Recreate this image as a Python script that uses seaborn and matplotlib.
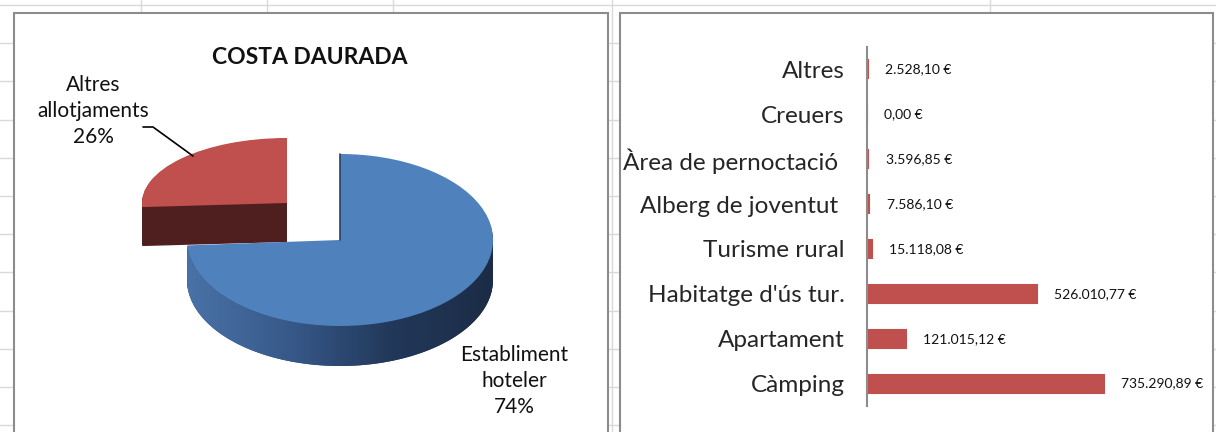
import numpy as np
import pandas as pd
import seaborn as sns
import matplotlib.pyplot as plt
from matplotlib.lines import Line2D
from matplotlib.patches import Rectangle, Polygon
from matplotlib.colors import LinearSegmentedColormap

# pie data (Costa Daurada)
pie_labels = ['Establiment\nhoteler', 'Altres\nallotjaments']
pie_share = [74, 26]

# bar data
categories = ['Altres', 'Creuers', 'Àrea de pernoctació ', 'Alberg de joventut ',
              'Turisme rural', "Habitatge d'ús tur.", 'Apartament', 'Càmping']
amounts = [2528.10, 0.00, 3596.85, 7586.10, 15118.08, 526010.77, 121015.12, 735290.89]
amount_labels = ['2.528,10 €', '0,00 €', '3.596,85 €', '7.586,10 €',
                 '15.118,08 €', '526.010,77 €', '121.015,12 €', '735.290,89 €']

W, H = 1216, 432
sns.set_style('white')
plt.rcParams['font.family'] = ['Lato', 'DejaVu Sans']
plt.rcParams['text.color'] = '#111111'

fig = plt.figure(figsize=(W / 100, H / 100), dpi=100)


def fx(x):
    return x / W


def fy(y):
    return 1 - y / H


# spreadsheet grid behind the charts
for k in range(12):
    fig.add_artist(Line2D([0, 1], [fy(5 + 38.2 * k)] * 2, color='#d9d9d9', lw=1, zorder=-3))
for x in [141, 267, 393, 612, 990]:
    fig.add_artist(Line2D([fx(x)] * 2, [0, 1], color='#d9d9d9', lw=1, zorder=-3))

# chart frames
for x0, x1 in [(14, 608), (620, 1213)]:
    fig.add_artist(Rectangle((fx(x0), fy(445)), fx(x1 - x0), (445 - 13) / H,
                             transform=fig.transFigure, facecolor='white',
                             edgecolor='#8c8c8c', lw=1.5, zorder=-2))


def pie_axes(cx, cy, sx, sy, z):
    # axes over the left panel where one data unit = sx by sy pixels, pie centre at (cx, cy)
    ax = fig.add_axes([0, 0, 608 / W, 1], zorder=z)
    ax.set_facecolor('none')
    return ax


def finish_pie(ax, cx, cy, sx, sy):
    ax.set_aspect('auto')
    ax.set_xlim(-cx / sx, (608 - cx) / sx)
    ax.set_ylim(-(H - cy) / sy, cy / sy)
    ax.axis('off')


# ---- pie, fake 3D: the exploded red slice sits further back, so it gets its own flatter axes ----
# red slice (behind)
rx, ry, rsx, rsy, rdepth = 287, 203, 145, 65, 0.6
axr = pie_axes(rx, ry, rsx, rsy, 0)
for d in np.linspace(rdepth, 0.01, 30):
    axr.pie(pie_share, colors=['none', '#4f1e1e'], startangle=90, counterclock=False,
            center=(0, -d), wedgeprops=dict(lw=0))
axr.pie(pie_share, colors=['none', '#c0504d'], startangle=90, counterclock=False,
        wedgeprops=dict(lw=0, zorder=3))
finish_pie(axr, rx, ry, rsx, rsy)

# blue slice (front)
bx, by, bsx, bsy, bdepth = 340, 240, 153, 86, 0.465
axb = pie_axes(bx, by, bsx, bsy, 1)
for d in np.linspace(bdepth, 0.01, 30):
    axb.pie(pie_share, colors=['#2a4266', 'none'], startangle=90, counterclock=False,
            center=(0, -d), wedgeprops=dict(lw=0, zorder=1))

end_ang = 90 - 360 * pie_share[0] / sum(pie_share)
t = np.radians(np.linspace(end_ang, 0, 150))
top = np.column_stack([np.cos(t), np.sin(t)])
bot = np.column_stack([np.cos(t), np.sin(t) - bdepth])
side = Polygon(np.vstack([top, bot[::-1]]), closed=True, facecolor='none', edgecolor='none')
axb.add_patch(side)
side_cmap = LinearSegmentedColormap.from_list('side', ['#4a72a6', '#37598a', '#22385a', '#1c2c46'])
grad = axb.imshow(np.linspace(0, 1, 256)[None, :], cmap=side_cmap, aspect='auto',
                  extent=(-1, 1, -1 - bdepth, 0.1), zorder=2)
grad.set_clip_path(side)

axb.pie(pie_share, colors=['#4f81bd', 'none'], startangle=90, counterclock=False,
        wedgeprops=dict(lw=0, zorder=3))
axb.plot([0, 0], [0, 1], color='#2a4266', lw=1.2, zorder=4)
finish_pie(axb, bx, by, bsx, bsy)

fig.text(fx(310), fy(57), 'COSTA DAURADA', ha='center', va='center',
         fontsize=16.5, fontweight='bold')
fig.text(fx(93), fy(111), f'{pie_labels[1]}\n{pie_share[1]}%', ha='center', va='center',
         fontsize=15, linespacing=1.35)
fig.text(fx(514), fy(381), f'{pie_labels[0]}\n{pie_share[0]}%', ha='center', va='center',
         fontsize=15, linespacing=1.35)
fig.add_artist(Line2D([fx(143), fx(153), fx(193)], [fy(127), fy(127), fy(156)],
                      color='black', lw=1.2))

# ---- bars ----
ax2 = fig.add_axes([fx(867), fy(406), fx(1200 - 867), (406 - 47) / H])
ax2.set_facecolor('none')
df = pd.DataFrame({'tipus': categories, 'import': amounts})
sns.barplot(data=df, x='import', y='tipus', orient='h', color='#c0504d',
            saturation=1, width=0.4, edgecolor='#c0504d', linewidth=1.5, ax=ax2)
ax2.set_xlim(0, max(amounts) * 1.405)
ax2.set_ylim(len(categories) - 0.5, -0.5)
sns.despine(ax=ax2, left=False, bottom=True)
ax2.spines['left'].set_color('#8c8c8c')
ax2.spines['left'].set_linewidth(1.5)
ax2.spines['left'].set_zorder(5)
ax2.set_xticks([])
ax2.set_xlabel('')
ax2.set_ylabel('')
ax2.tick_params(axis='y', length=0, pad=16, labelsize=17.5)
for i, (v, lab) in enumerate(zip(amounts, amount_labels)):
    ax2.annotate(lab, (v, i), xytext=(12.5, 0), textcoords='offset points',
                 ha='left', va='center', fontsize=10)

fig.savefig('out.png', dpi=100)
